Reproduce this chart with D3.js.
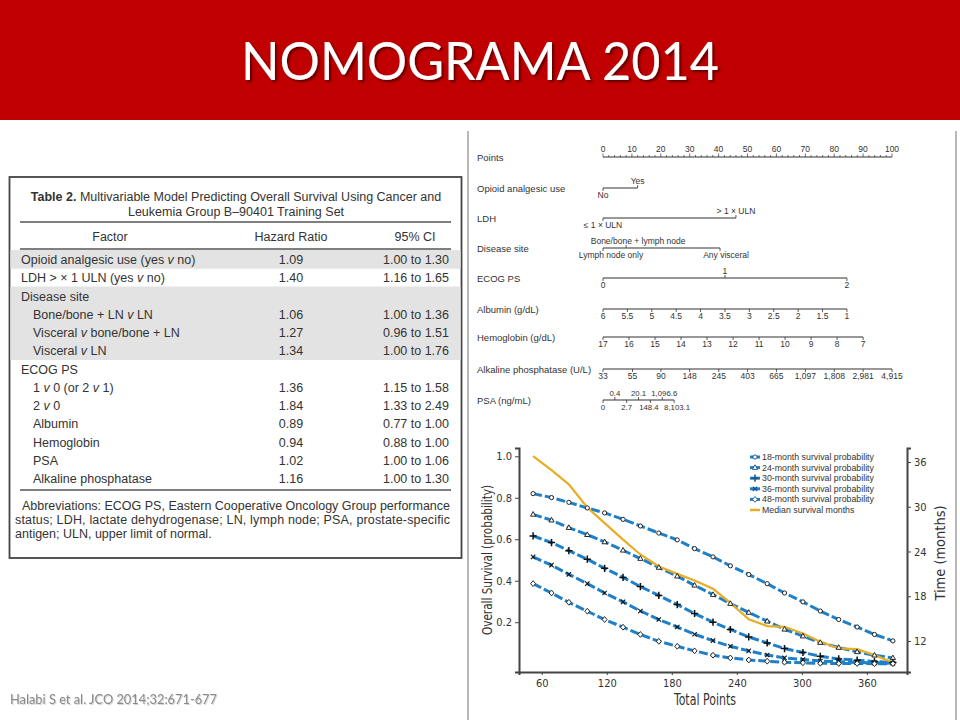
<!DOCTYPE html>
<html>
<head>
<meta charset="utf-8">
<script src="https://cdn.jsdelivr.net/npm/d3@7"></script>
<style>
  html, body { margin: 0; padding: 0; background: #fff; }
  svg { display: block; }
</style>
</head>
<body>
<svg id="slide" width="960" height="720"></svg>
<script>
// ---------- table data ----------
const tableFactors = ["Opioid analgesic use (yes v no)", "LDH > \u00d7 1 ULN (yes v no)", "Disease site",
  "Bone/bone + LN v LN", "Visceral v bone/bone + LN", "Visceral v LN", "ECOG PS", "1 v 0 (or 2 v 1)",
  "2 v 0", "Albumin", "Hemoglobin", "PSA", "Alkaline phosphatase"];
const tableIndent = [0, 0, 0, 1, 1, 1, 0, 1, 1, 1, 1, 1, 1];
const tableShaded = [1, 0, 1, 1, 1, 1, 0, 0, 0, 0, 0, 0, 0];
const hazardRatios = ["1.09", "1.40", "", "1.06", "1.27", "1.34", "", "1.36", "1.84", "0.89", "0.94", "1.02", "1.16"];
const ciRanges = ["1.00 to 1.30", "1.16 to 1.65", "", "1.00 to 1.36", "0.96 to 1.51", "1.00 to 1.76", "",
  "1.15 to 1.58", "1.33 to 2.49", "0.77 to 1.00", "0.88 to 1.00", "1.00 to 1.06", "1.00 to 1.30"];
const abbreviations = [
  "Abbreviations: ECOG PS, Eastern Cooperative Oncology Group performance",
  "status; LDH, lactate dehydrogenase; LN, lymph node; PSA, prostate-specific",
  "antigen; ULN, upper limit of normal."];

// ---------- nomogram data ----------
const pointsTicks = [0, 10, 20, 30, 40, 50, 60, 70, 80, 90, 100];
const opioidLevels = ["No", "Yes"];
const opioidPoints = [0, 12];
const ldhLevels = ["\u2264 1 \u00d7 ULN", "> 1 \u00d7 ULN"];
const ldhPoints = [0, 46];
const siteLevels = ["Lymph node only", "Bone/bone + lymph node", "Any visceral"];
const sitePoints = [0, 8, 40.5];
const ecogLevels = ["0", "1", "2"];
const ecogPoints = [0, 42.2, 84.4];
const albuminLevels = [6, 5.5, 5, 4.5, 4, 3.5, 3, 2.5, 2, 1.5, 1];
const albuminRangePoints = [0, 84.4];
const hemoglobinLevels = [17, 16, 15, 14, 13, 12, 11, 10, 9, 8, 7];
const hemoglobinRangePoints = [0, 90];
const alkPhosLevels = [33, 55, 90, 148, 245, 403, 665, 1097, 1808, 2981, 4915];
const psaLevels = ["0", "0.4", "2.7", "20.1", "148.4", "1,096.6", "8,103.1"];
const psaPoints = [0, 4.1, 8.2, 12.3, 16.4, 20.5, 24.6];

// ---------- survival chart data ----------
const totalPoints = [52, 69, 85, 102, 118, 135, 151, 168, 185, 201, 218, 234, 251, 268, 284, 301, 317, 334, 351, 367, 384];
const surv18 = [0.820, 0.801, 0.778, 0.751, 0.727, 0.696, 0.664, 0.630, 0.597, 0.555, 0.515, 0.472, 0.430, 0.386, 0.341, 0.298, 0.254, 0.213, 0.177, 0.141, 0.110];
const surv24 = [0.720, 0.692, 0.656, 0.622, 0.587, 0.547, 0.507, 0.464, 0.422, 0.378, 0.333, 0.290, 0.247, 0.205, 0.166, 0.133, 0.102, 0.078, 0.057, 0.041, 0.028];
const surv30 = [0.616, 0.584, 0.545, 0.504, 0.460, 0.416, 0.372, 0.329, 0.285, 0.242, 0.200, 0.165, 0.129, 0.100, 0.073, 0.054, 0.036, 0.023, 0.017, 0.011, 0.006];
const surv36 = [0.515, 0.475, 0.431, 0.386, 0.341, 0.298, 0.254, 0.213, 0.177, 0.142, 0.111, 0.084, 0.062, 0.042, 0.028, 0.020, 0.013, 0.009, 0.006, 0.004, 0.002];
const surv48 = [0.386, 0.341, 0.296, 0.253, 0.213, 0.176, 0.141, 0.108, 0.084, 0.062, 0.041, 0.028, 0.018, 0.012, 0.007, 0.004, 0.002, 0.001, 0.001, 0.000, 0.000];
const medianMonths = [36.8, 34.9, 33.0, 29.9, 27.8, 25.6, 23.6, 22.0, 21.0, 20.1, 19.0, 17.1, 14.9, 14.0, 13.9, 13.0, 11.9, 11.0, 10.9, 10.1, 9.1];
const seriesNames = ["18-month survival probability", "24-month survival probability", "30-month survival probability",
  "36-month survival probability", "48-month survival probability"];
const seriesMarkers = ["circle", "triangle", "plus", "times", "diamond"];
const xTicks = [60, 120, 180, 240, 300, 360];
const yTicks = [0.2, 0.4, 0.6, 0.8, 1.0];
const monthTicks = [12, 18, 24, 30, 36];

// ---------- drawing ----------
const svg = d3.select("#slide");
const SANS = "'Liberation Sans', Arial, sans-serif";
const SLIDE = "Lato, 'Open Sans', 'Liberation Sans', sans-serif";
const NARROW = "'Liberation Sans Narrow', 'DejaVu Sans Condensed', 'Liberation Sans', Arial, sans-serif";
const BLUE = "#1f80c8";
const GOLD = "#e8ad25";

const defs = svg.append("defs");
defs.append("filter").attr("id", "titleShadow").attr("x", "-5%").attr("y", "-20%").attr("width", "110%").attr("height", "150%")
  .append("feDropShadow").attr("dx", 2).attr("dy", 2).attr("stdDeviation", 1.2)
  .attr("flood-color", "#000").attr("flood-opacity", 0.5);
defs.append("filter").attr("id", "citeShadow").attr("x", "-5%").attr("y", "-30%").attr("width", "110%").attr("height", "160%")
  .append("feDropShadow").attr("dx", 1).attr("dy", 1).attr("stdDeviation", 0.6)
  .attr("flood-color", "#bbb").attr("flood-opacity", 0.6);

// header band
svg.append("rect").attr("x", 0).attr("y", 0).attr("width", 960).attr("height", 120).attr("fill", "#c00000");
svg.append("text").attr("x", 480).attr("y", 80).attr("text-anchor", "middle")
  .attr("font-family", SLIDE).attr("font-size", 52).attr("fill", "#fff")
  .attr("textLength", 478).attr("lengthAdjust", "spacingAndGlyphs")
  .attr("filter", "url(#titleShadow)")
  .text("NOMOGRAMA 2014");

// panel borders on the right
svg.append("line").attr("x1", 468).attr("x2", 468).attr("y1", 131).attr("y2", 720).attr("stroke", "#8a8a8a").attr("stroke-width", 1.2);
svg.append("line").attr("x1", 956).attr("x2", 956).attr("y1", 131).attr("y2", 720).attr("stroke", "#8a8a8a").attr("stroke-width", 1.2);

// citation
svg.append("text").attr("x", 10).attr("y", 704).attr("font-family", SLIDE).attr("font-size", 12.5)
  .attr("fill", "#8a8a8a").attr("textLength", 207).attr("lengthAdjust", "spacingAndGlyphs")
  .attr("filter", "url(#citeShadow)")
  .text("Halabi S et al. JCO 2014;32:671-677");

// ---------- table ----------
const tbl = svg.append("g").attr("font-family", SANS).attr("fill", "#333");
tbl.append("rect").attr("x", 9.5).attr("y", 177).attr("width", 452).attr("height", 381)
  .attr("fill", "#fff").attr("stroke", "#444").attr("stroke-width", 1.8);

const rowTop = 250, rowH = 18.25;
tableShaded.forEach((s, i) => {
  if (s) tbl.append("rect").attr("x", 10.5).attr("y", rowTop + i * rowH).attr("width", 450)
    .attr("height", rowH + 0.5).attr("fill", "#e3e3e3");
});

const title1 = tbl.append("text").attr("x", 236).attr("y", 201).attr("text-anchor", "middle").attr("font-size", 12.5);
title1.append("tspan").attr("font-weight", "bold").text("Table 2.");
title1.append("tspan").text(" Multivariable Model Predicting Overall Survival Using Cancer and");
tbl.append("text").attr("x", 236).attr("y", 216).attr("text-anchor", "middle").attr("font-size", 12.5)
  .text("Leukemia Group B\u201390401 Training Set");

[222, 249, 490].forEach(yy => tbl.append("line").attr("x1", 20).attr("x2", 451).attr("y1", yy).attr("y2", yy)
  .attr("stroke", "#555").attr("stroke-width", 1.4));

tbl.append("text").attr("x", 110).attr("y", 241).attr("text-anchor", "middle").attr("font-size", 12.5).text("Factor");
tbl.append("text").attr("x", 291).attr("y", 241).attr("text-anchor", "middle").attr("font-size", 12.5).text("Hazard Ratio");
tbl.append("text").attr("x", 415).attr("y", 241).attr("text-anchor", "middle").attr("font-size", 12.5).text("95% CI");

tableFactors.forEach((f, i) => {
  const by = rowTop + i * rowH + 14;
  const t = tbl.append("text").attr("x", tableIndent[i] ? 33 : 21).attr("y", by).attr("font-size", 12.5);
  f.split(/(\bv\b)/).forEach(part => {
    const ts = t.append("tspan").text(part);
    if (part === "v") ts.attr("font-style", "italic");
  });
  tbl.append("text").attr("x", 291).attr("y", by).attr("text-anchor", "middle").attr("font-size", 12.5).text(hazardRatios[i]);
  tbl.append("text").attr("x", 449).attr("y", by).attr("text-anchor", "end").attr("font-size", 12.5).text(ciRanges[i]);
});

abbreviations.forEach((line, i) => {
  const t = tbl.append("text").attr("x", i === 0 ? 22 : 15).attr("y", 510 + i * 13.8).attr("font-size", 12.5).text(line);
  if (i < 2) t.attr("textLength", i === 0 ? 428 : 435).attr("lengthAdjust", "spacing");
});

// ---------- nomogram ----------
const pts = d3.scaleLinear().domain([0, 100]).range([603, 892]);
const nomo = svg.append("g").attr("font-family", SANS).attr("fill", "#333");
const rowLabels = ["Points", "Opioid analgesic use", "LDH", "Disease site", "ECOG PS", "Albumin (g/dL)",
  "Hemoglobin (g/dL)", "Alkaline phosphatase (U/L)", "PSA (ng/mL)"];
const rowY = [157, 188, 218, 248, 278, 309, 337, 369, 400];
rowLabels.forEach((l, i) => nomo.append("text").attr("x", 477).attr("y", rowY[i] + 3.5).attr("font-size", 9.5).text(l));

// points axis
nomo.append("line").attr("x1", pts(0)).attr("x2", pts(100)).attr("y1", rowY[0]).attr("y2", rowY[0]).attr("stroke", "#333").attr("stroke-width", 1.1);
d3.range(0, 101, 2).forEach(p => nomo.append("line").attr("x1", pts(p)).attr("x2", pts(p))
  .attr("y1", rowY[0]).attr("y2", rowY[0] - (p % 10 === 0 ? 3.5 : 2)).attr("stroke", "#333").attr("stroke-width", 0.7));
pointsTicks.forEach(p => nomo.append("text").attr("x", pts(p)).attr("y", rowY[0] - 5).attr("text-anchor", "middle")
  .attr("font-size", 8.5).text(p));

// one nomogram scale row; shifts nudge a label sideways off its tick
function nomoRow(yy, positions, labels, sides, size, shifts) {
  const xs = positions.map(pts);
  nomo.append("line").attr("x1", d3.min(xs)).attr("x2", d3.max(xs)).attr("y1", yy).attr("y2", yy)
    .attr("stroke", "#333").attr("stroke-width", 1.1);
  xs.forEach((xx, k) => {
    const up = sides[k] === "up";
    nomo.append("line").attr("x1", xx).attr("x2", xx).attr("y1", yy).attr("y2", up ? yy - 3 : yy + 3)
      .attr("stroke", "#333").attr("stroke-width", 0.8);
    nomo.append("text").attr("x", xx + (shifts ? shifts[k] : 0)).attr("y", up ? yy - 4.5 : yy + 10).attr("text-anchor", "middle")
      .attr("font-size", size || 8.5).text(labels[k]);
  });
}
nomoRow(rowY[1], opioidPoints, opioidLevels, ["down", "up"]);
nomoRow(rowY[2], ldhPoints, ldhLevels, ["down", "up"]);
nomoRow(rowY[3], sitePoints, siteLevels, ["down", "up", "down"], 8.5, [8, 12, 6]);
nomoRow(rowY[4], ecogPoints, ecogLevels, ["down", "up", "down"]);
const albScale = d3.scaleLinear().domain(d3.extent(albuminLevels).reverse()).range(albuminRangePoints);
nomoRow(rowY[5], albuminLevels.map(albScale), albuminLevels, albuminLevels.map(() => "down"));
const hgbScale = d3.scaleLinear().domain(d3.extent(hemoglobinLevels).reverse()).range(hemoglobinRangePoints);
nomoRow(rowY[6], hemoglobinLevels.map(hgbScale), hemoglobinLevels, hemoglobinLevels.map(() => "down"));
const alkScale = d3.scaleLog().domain(d3.extent(alkPhosLevels)).range([0, 100]);
nomoRow(rowY[7], alkPhosLevels.map(alkScale), alkPhosLevels.map(d3.format(",")), alkPhosLevels.map(() => "down"));
nomoRow(rowY[8], psaPoints, psaLevels, psaLevels.map((d, k) => k % 2 ? "up" : "down"), 7.8, [0, 0, 0, 0, -1.5, 2, 3]);

// ---------- survival chart ----------
const x = d3.scaleLinear().domain([39, 397]).range([519, 907]);
const y = d3.scaleLinear().domain([-0.04, 1.04]).range([672, 448]);
const yM = d3.scaleLinear().domain([7.84, 37.88]).range([672, 448]);
const chart = svg.append("g");

function styleAxis(g) {
  g.select(".domain").attr("stroke", "#444").attr("stroke-width", 2);
  g.selectAll(".tick line").attr("stroke", "#444").attr("stroke-width", 1);
  g.selectAll(".tick text").attr("font-family", NARROW).attr("font-size", 11).attr("fill", "#333");
}
chart.append("g").attr("transform", "translate(519,0)")
  .call(d3.axisLeft(y).tickValues(yTicks).tickFormat(d3.format(".1f")).tickSizeOuter(0).tickSize(4).tickPadding(3))
  .call(styleAxis);
chart.append("g").attr("transform", "translate(0,672)")
  .call(d3.axisBottom(x).tickValues(xTicks).tickSizeOuter(0).tickSize(3).tickPadding(4))
  .call(styleAxis);
chart.append("g").attr("transform", "translate(907,0)")
  .call(d3.axisRight(yM).tickValues(monthTicks).tickSizeOuter(0).tickSize(4).tickPadding(3))
  .call(styleAxis);

chart.append("text").attr("transform", "translate(492,560) rotate(-90)").attr("text-anchor", "middle")
  .attr("font-family", NARROW).attr("font-size", 14).attr("fill", "#333")
  .attr("textLength", 150).attr("lengthAdjust", "spacingAndGlyphs").text("Overall Survival (probability)");
chart.append("text").attr("transform", "translate(945,553) rotate(-90)").attr("text-anchor", "middle")
  .attr("font-family", NARROW).attr("font-size", 14).attr("fill", "#333")
  .attr("textLength", 95).attr("lengthAdjust", "spacingAndGlyphs").text("Time (months)");
chart.append("text").attr("x", 705).attr("y", 705).attr("text-anchor", "middle")
  .attr("font-family", NARROW).attr("font-size", 15).attr("fill", "#333")
  .attr("textLength", 62).attr("lengthAdjust", "spacingAndGlyphs").text("Total Points");

function drawMarker(g, type, cx, cy, color) {
  const ink = color || "#111";
  if (type === "circle") {
    g.append("circle").attr("cx", cx).attr("cy", cy).attr("r", 2.1).attr("fill", "#fff").attr("stroke", ink).attr("stroke-width", 0.9);
  } else if (type === "triangle") {
    g.append("path").attr("d", `M${cx},${cy - 2.8}L${cx + 2.6},${cy + 1.8}L${cx - 2.6},${cy + 1.8}Z`)
      .attr("fill", "#fff").attr("stroke", ink).attr("stroke-width", 0.9);
  } else if (type === "plus") {
    g.append("path").attr("d", `M${cx - 3.6},${cy}H${cx + 3.6}M${cx},${cy - 3.6}V${cy + 3.6}`)
      .attr("stroke", ink).attr("stroke-width", 1.5);
  } else if (type === "times") {
    g.append("path").attr("d", `M${cx - 2.2},${cy - 2.2}L${cx + 2.2},${cy + 2.2}M${cx - 2.2},${cy + 2.2}L${cx + 2.2},${cy - 2.2}`)
      .attr("stroke", ink).attr("stroke-width", 1.1);
  } else {
    g.append("path").attr("d", `M${cx},${cy - 2.9}L${cx + 2.5},${cy}L${cx},${cy + 2.9}L${cx - 2.5},${cy}Z`)
      .attr("fill", "#fff").attr("stroke", ink).attr("stroke-width", 0.9);
  }
}

const survSeries = [surv18, surv24, surv30, surv36, surv48];
const line = d3.line().x(d => x(d[0])).y(d => y(d[1])).curve(d3.curveLinear);
survSeries.forEach((vals, s) => {
  const pairs = totalPoints.map((p, i) => [p, vals[i]]);
  chart.append("path").attr("d", line(pairs)).attr("fill", "none").attr("stroke", BLUE)
    .attr("stroke-width", 3).attr("stroke-dasharray", "9,3");
});
const goldLine = d3.line().x((d, i) => x(totalPoints[i])).y(d => yM(d));
chart.append("path").attr("d", goldLine(medianMonths)).attr("fill", "none").attr("stroke", GOLD).attr("stroke-width", 2.2);
survSeries.forEach((vals, s) => {
  const mg = chart.append("g");
  totalPoints.forEach((p, i) => drawMarker(mg, seriesMarkers[s], x(p), y(vals[i])));
});

// legend
const leg = chart.append("g").attr("font-family", SANS).attr("font-size", 8.8).attr("fill", "#333");
seriesNames.concat(["Median survival months"]).forEach((name, k) => {
  const ly = 457 + k * 10.6;
  if (k < 5) {
    leg.append("line").attr("x1", 750).attr("x2", 760).attr("y1", ly).attr("y2", ly).attr("stroke", BLUE).attr("stroke-width", 3);
    drawMarker(leg, seriesMarkers[k], 755, ly, "#1b4f86");
  } else {
    leg.append("line").attr("x1", 750).attr("x2", 760).attr("y1", ly).attr("y2", ly).attr("stroke", GOLD).attr("stroke-width", 2.5);
  }
  leg.append("text").attr("x", 762).attr("y", ly + 3).text(name);
});
</script>
</body>
</html>
